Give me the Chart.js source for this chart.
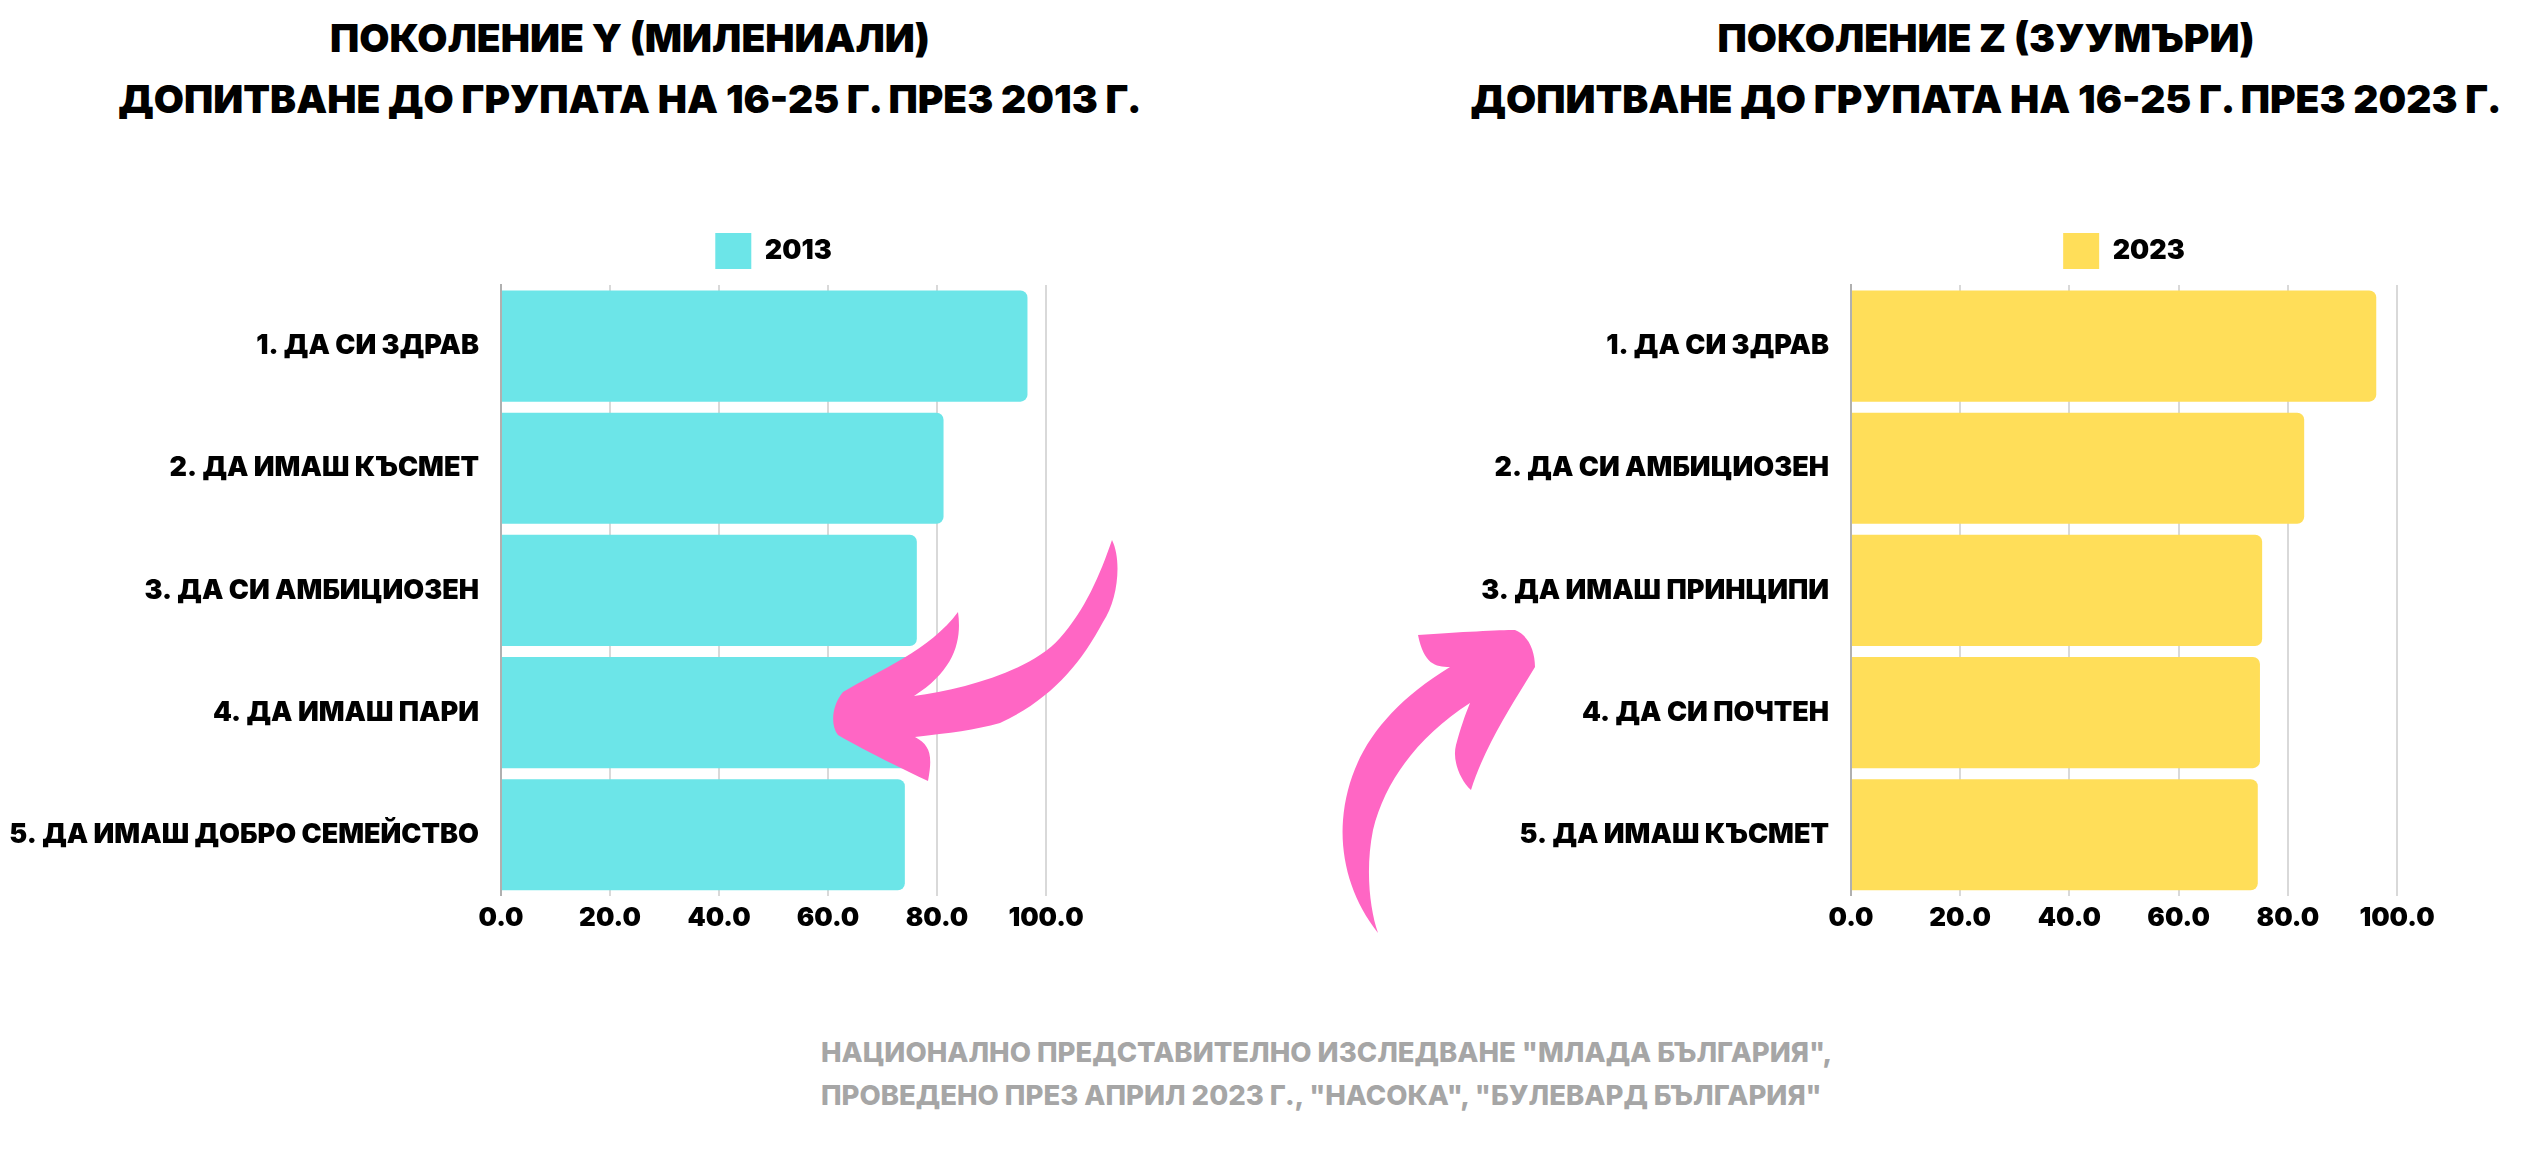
<!DOCTYPE html>
<html lang="bg">
<head>
<meta charset="utf-8">
<title>Поколение Y и Z</title>
<script src="https://cdn.jsdelivr.net/npm/chart.js@4.4.1/dist/chart.umd.min.js"></script>
<style>
  html, body { margin: 0; padding: 0; background: #fff; }
  body { width: 2530px; height: 1166px; overflow: hidden; position: relative; }
  .title {
    position: absolute; top: 7px; width: 1300px; text-align: center;
    font-family: Inter, "Noto Sans", sans-serif; font-weight: 900;
    font-size: 39px; line-height: 61px; letter-spacing: 0; color: #000;
  }
  #titleLeft { left: -20px; }
  #titleRight { left: 1336px; }
  canvas { position: absolute; top: 223px; }
  #chartLeft { left: 0; }
  #chartRight { left: 1350px; }
  #source {
    position: absolute; left: 821px; top: 1031px;
    font-family: Inter, "Noto Sans", sans-serif; font-weight: 800;
    font-size: 27.5px; line-height: 43px; color: #a6a6a6;
  }
  #arrows { position: absolute; left: 0; top: 0; pointer-events: none; }
</style>
</head>
<body>
<div class="title" id="titleLeft">ПОКОЛЕНИЕ Y (МИЛЕНИАЛИ)<br>ДОПИТВАНЕ ДО ГРУПАТА НА 16-25 Г. ПРЕЗ 2013 Г.</div>
<div class="title" id="titleRight">ПОКОЛЕНИЕ Z (ЗУУМЪРИ)<br>ДОПИТВАНЕ ДО ГРУПАТА НА 16-25 Г. ПРЕЗ 2023 Г.</div>

<canvas id="chartLeft" width="1150" height="718"></canvas>
<canvas id="chartRight" width="1150" height="718"></canvas>

<div id="source">НАЦИОНАЛНО ПРЕДСТАВИТЕЛНО ИЗСЛЕДВАНЕ "МЛАДА БЪЛГАРИЯ",<br>ПРОВЕДЕНО ПРЕЗ АПРИЛ 2023 Г., "НАСОКА", "БУЛЕВАРД БЪЛГАРИЯ"</div>

<svg id="arrows" width="2530" height="1166">
  <path fill="#ff66c4" d="M 1112,540 C 1122,560 1118,600 1103,622 C 1080,665 1050,700 1000,723 C 975,730 950,733 915,737 C 930,745 933,755 928,781 C 900,768 860,748 838,735 C 830,725 832,705 843,692 C 880,670 930,650 958,612 C 962,640 955,670 914,696 C 960,690 1030,672 1060,638 C 1085,610 1100,575 1112,540 Z"/>
  <path fill="#ff66c4" d="M 1378,933 C 1352,900 1340,860 1343,820 C 1348,760 1380,710 1450,667 C 1435,667 1424,664 1418,635 C 1460,632 1500,630 1515,630 C 1528,635 1535,650 1535,667 C 1515,700 1485,745 1471,790 C 1460,780 1452,760 1456,745 C 1460,730 1465,715 1470,703 C 1420,735 1385,780 1373,830 C 1365,870 1370,910 1378,933 Z"/>
</svg>

<script>
// Data
const labels2013 = ['1. ДА СИ ЗДРАВ', '2. ДА ИМАШ КЪСМЕТ', '3. ДА СИ АМБИЦИОЗЕН', '4. ДА ИМАШ ПАРИ', '5. ДА ИМАШ ДОБРО СЕМЕЙСТВО'];
const values2013 = [96.6, 81.2, 76.3, 75.6, 74.1];

const labels2023 = ['1. ДА СИ ЗДРАВ', '2. ДА СИ АМБИЦИОЗЕН', '3. ДА ИМАШ ПРИНЦИПИ', '4. ДА СИ ПОЧТЕН', '5. ДА ИМАШ КЪСМЕТ'];
const values2023 = [96.2, 83.0, 75.3, 74.9, 74.5];

const xMin = 0;
const xMax = 100;
const xStep = 20;

const fontFamily = 'Inter, "Noto Sans", sans-serif';

// pushes the plot area a bit further below the legend
const legendSpacer = {
    id: 'legendSpacer',
    beforeInit(chart) {
        const fitLegend = chart.legend.fit;
        chart.legend.fit = function () {
            fitLegend.bind(chart.legend)();
            this.height += 6;
        };
    }
};

function makeChart(canvasId, labels, values, year, color, yAxisWidth, padRight) {
    const ctx = document.getElementById(canvasId).getContext('2d');
    return new Chart(ctx, {
        type: 'bar',
        data: {
            labels: labels,
            datasets: [{
                label: year,
                data: values,
                backgroundColor: color,
                borderRadius: 7,
                barPercentage: 0.91,
                categoryPercentage: 1
            }]
        },
        plugins: [legendSpacer],
        options: {
            indexAxis: 'y',
            responsive: false,
            animation: false,
            layout: { padding: { left: 0, right: padRight, top: 0, bottom: 0 } },
            plugins: {
                legend: {
                    display: true,
                    position: 'top',
                    fullSize: false,
                    labels: {
                        boxWidth: 36,
                        boxHeight: 36,
                        padding: 10,
                        color: '#000',
                        font: { family: fontFamily, weight: '900', size: 27 }
                    }
                },
                tooltip: { enabled: false }
            },
            scales: {
                x: {
                    min: xMin,
                    max: xMax,
                    ticks: {
                        stepSize: xStep,
                        padding: 7,
                        color: '#000',
                        font: { family: fontFamily, weight: '900', size: 26 },
                        callback: (v) => Number(v).toFixed(1)
                    },
                    grid: { color: '#d9d9d9', lineWidth: 2, drawTicks: false },
                    border: { display: false }
                },
                y: {
                    ticks: {
                        padding: 22,
                        color: '#000',
                        font: { family: fontFamily, weight: '900', size: 27 }
                    },
                    grid: { display: false, drawTicks: false },
                    border: { display: true, color: '#b0b0b0', width: 2 },
                    afterFit: (scale) => { scale.width = yAxisWidth; }
                }
            }
        }
    });
}

makeChart('chartLeft', labels2013, values2013, '2013', '#6ce5e8', 501, 104);
makeChart('chartRight', labels2023, values2023, '2023', '#ffde59', 501, 103);
</script>
</body>
</html>
